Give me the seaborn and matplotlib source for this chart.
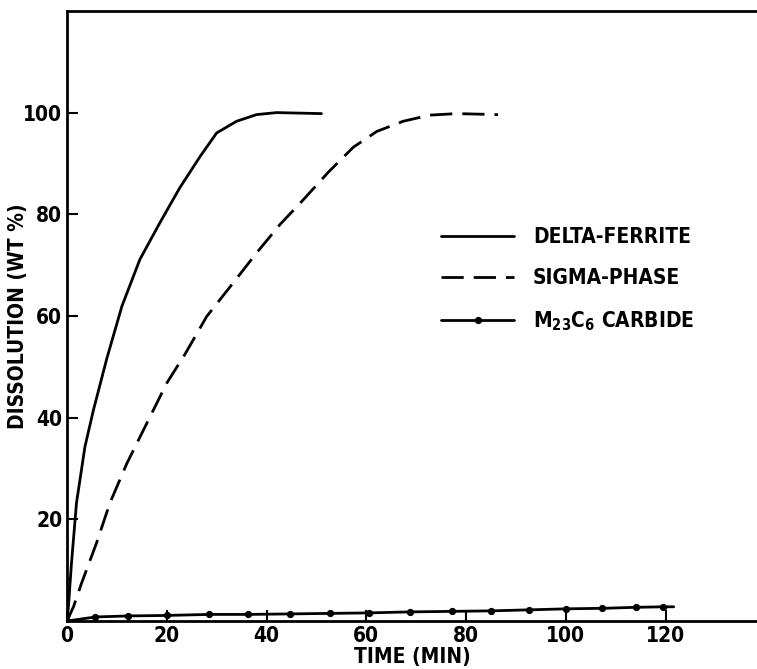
import numpy as np
import pandas as pd
import matplotlib
matplotlib.use("Agg")
import matplotlib.pyplot as plt
import seaborn as sns

# values
ferrite_t = [0, 0.3, 0.9, 1.9, 3.6, 5.3, 8.0, 11.0, 14.6, 18.6, 22.6, 26.7, 30.0, 34.0, 38.0, 42.0, 51.0]
ferrite_y = [0, 3, 11.4, 23.2, 34.3, 41.5, 51.7, 61.9, 71.1, 78.3, 85.2, 91.4, 96.0, 98.3, 99.6, 100, 99.8]

sigma_t = [0, 1.3, 2.9, 5.9, 8.6, 12.0, 16.0, 20.0, 23.6, 28.0, 33.3, 38.0, 42.7, 47.4, 52.4,
           57.4, 62.1, 67.4, 72.7, 78.1, 86.4]
sigma_y = [0, 2.8, 7.4, 15.3, 23.2, 31.0, 38.9, 46.8, 52.4, 59.9, 66.5, 72.4, 78.0, 82.9, 88.3,
           93.2, 96.3, 98.3, 99.5, 99.8, 99.6]

carbide_t = [0, 5.7, 12.2, 20.0, 28.5, 36.3, 44.6, 52.7, 60.5, 68.8, 77.1, 84.9, 92.7, 100.0,
             107.3, 114.1, 119.5, 121.6]
carbide_y = [0, 0.8, 1.0, 1.1, 1.3, 1.3, 1.4, 1.5, 1.6, 1.8, 1.9, 2.0, 2.2, 2.4, 2.5, 2.7, 2.8, 2.8]
carbide_marked = [True] * 17 + [False]

x_ticks = [0, 20, 40, 60, 80, 100, 120]
y_ticks = [20, 40, 60, 80, 100]

sns.set_style("ticks")
plt.rcParams['font.family'] = ['DejaVu Sans']
plt.rcParams['font.stretch'] = 'condensed'
plt.rcParams['font.weight'] = 'bold'
plt.rcParams['mathtext.default'] = 'regular'
plt.rcParams['text.color'] = 'black'
plt.rcParams['axes.labelcolor'] = 'black'
plt.rcParams['axes.labelweight'] = 'bold'

fig = plt.figure(figsize=(7.57, 6.69), dpi=100)
ax = fig.add_axes([0.0885, 0.0717, 0.9115, 0.912])

ferrite = pd.DataFrame({"t": ferrite_t, "y": ferrite_y})
sigma = pd.DataFrame({"t": sigma_t, "y": sigma_y})
carbide = pd.DataFrame({"t": carbide_t, "y": carbide_y})

sns.lineplot(data=ferrite, x="t", y="y", ax=ax, color="black", lw=2.0,
             label="DELTA-FERRITE", sort=False)
sns.lineplot(data=sigma, x="t", y="y", ax=ax, color="black", lw=2.0,
             linestyle=(0, (8, 3.6)), label="SIGMA-PHASE", sort=False)
ax.plot(carbide["t"], carbide["y"], color="black", lw=2.0, marker="o", markersize=4.2,
        markevery=carbide_marked, label="M$_{23}$C$_6$ CARBIDE")

ax.set_xlim(0, 138.3)
ax.set_ylim(0, 120)
ax.set_xticks(x_ticks)
ax.set_yticks(y_ticks)
ax.tick_params(direction="in", length=8, width=1.5, labelsize=15, colors="black")
for side in ["left", "bottom", "top"]:
    ax.spines[side].set_linewidth(2)
    ax.spines[side].set_color("black")
ax.spines["right"].set_visible(False)

ax.set_xlabel("TIME (MIN)", fontsize=15, labelpad=1)
ax.set_ylabel("DISSOLUTION (WT %)", fontsize=15)
ax.yaxis.set_label_coords(-0.056, 0.5)

leg = ax.legend(loc="upper left", bbox_to_anchor=(0.515, 0.676), frameon=False,
                fontsize=15, handlelength=3.5, labelspacing=1.0, handletextpad=0.9)

fig.savefig("out.png", dpi=100)
